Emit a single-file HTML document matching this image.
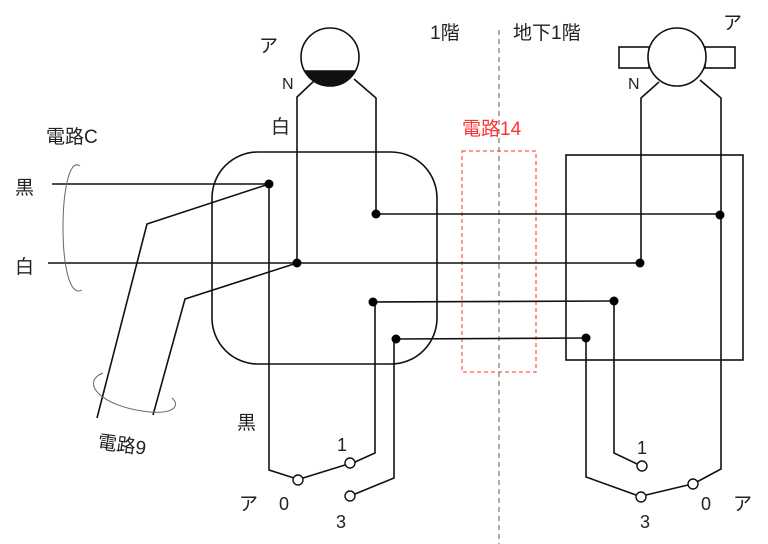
<!DOCTYPE html>
<html><head><meta charset="utf-8"><style>
html,body{margin:0;padding:0;background:#fff;}
svg{display:block;}
text{font-family:"Liberation Sans","Noto Sans CJK JP",sans-serif;fill:#222;}
</style></head><body>
<svg width="768" height="544" viewBox="0 0 768 544" xmlns="http://www.w3.org/2000/svg">
<g fill="none" stroke="#111" stroke-width="1.6">
<line x1="499" y1="30" x2="499" y2="544" stroke="#777" stroke-width="1.2" stroke-dasharray="5,4"/>
<rect x="462" y="151" width="74" height="221" stroke="#f33" stroke-width="1" stroke-dasharray="4,3"/>
<rect x="212" y="152" width="225" height="212" rx="46" ry="46"/>
<rect x="566" y="155" width="177" height="205"/>
<circle cx="330" cy="57" r="29"/>
<path d="M305,71 A29,29 0 0 0 355,71 Z" fill="#111"/>
<polyline points="315,80 297,97 297,263"/>
<polyline points="354,79 376,98 376,214"/>
<rect x="619" y="47" width="30" height="21"/>
<rect x="705" y="47" width="30" height="21"/>
<circle cx="677" cy="57" r="29" fill="#fff"/>
<polyline points="659,82 641,98 641,263"/>
<polyline points="700,80 721,98 721,469 693,484"/>
<line x1="52" y1="184" x2="269" y2="184"/>
<line x1="48" y1="263" x2="640" y2="263"/>
<line x1="376" y1="214" x2="720" y2="214"/>
<line x1="373" y1="302" x2="614" y2="301"/>
<line x1="396" y1="339" x2="586" y2="338"/>
<polyline points="269,184 147,224 97,418"/>
<polyline points="297,263 185,299 153,415"/>
<polyline points="269,184 269,470 294,478"/>
<line x1="303" y1="478" x2="345" y2="465"/>
<polyline points="355,462 375,453 375,302"/>
<polyline points="355,494 394,478 394,339"/>
<polyline points="614,301 614,453 637,464"/>
<polyline points="586,338 586,477 636,495"/>
<line x1="646" y1="495" x2="688" y2="485"/>
</g>
<g fill="#fff" stroke="#111" stroke-width="1.4">
<circle cx="298" cy="480" r="5"/>
<circle cx="350" cy="463" r="5"/>
<circle cx="350" cy="496" r="5"/>
<circle cx="642" cy="466" r="5"/>
<circle cx="641" cy="497" r="5"/>
<circle cx="693" cy="484" r="5"/>
</g>
<g fill="#000">
<circle cx="269" cy="184" r="4.5"/>
<circle cx="297" cy="263" r="4.5"/>
<circle cx="376" cy="214" r="4.5"/>
<circle cx="373" cy="302" r="4.5"/>
<circle cx="396" cy="339" r="4.5"/>
<circle cx="720" cy="215" r="4.5"/>
<circle cx="640" cy="263" r="4.5"/>
<circle cx="614" cy="301" r="4.5"/>
<circle cx="586" cy="338" r="4.5"/>
</g>
<g fill="none" stroke="#666" stroke-width="1">
<path d="M80,166 C58,150 56,305 82,290"/>
<path d="M103,373 C80,382 100,407 150,412 C175,414 180,405 172,398"/>
</g>
<g font-size="19">
<text x="259" y="52">ア</text>
<text x="282" y="89" font-size="16">N</text>
<text x="271" y="133">白</text>
<text x="430" y="39">1階</text>
<text x="513" y="39">地下1階</text>
<text x="723" y="29">ア</text>
<text x="628" y="89" font-size="16">N</text>
<text x="46" y="143">電路C</text>
<text x="15" y="194">黒</text>
<text x="15" y="273">白</text>
<text x="462" y="135" style="fill:#f33">電路14</text>
<text x="97" y="448" transform="rotate(8 97 448)">電路9</text>
<text x="237" y="429">黒</text>
<text x="337" y="451" font-size="18">1</text>
<text x="239" y="510">ア</text>
<text x="279" y="510" font-size="18">0</text>
<text x="336" y="528" font-size="18">3</text>
<text x="637" y="454" font-size="18">1</text>
<text x="640" y="528" font-size="18">3</text>
<text x="701" y="510" font-size="18">0</text>
<text x="733" y="510">ア</text>
</g>
</svg>
</body></html>
